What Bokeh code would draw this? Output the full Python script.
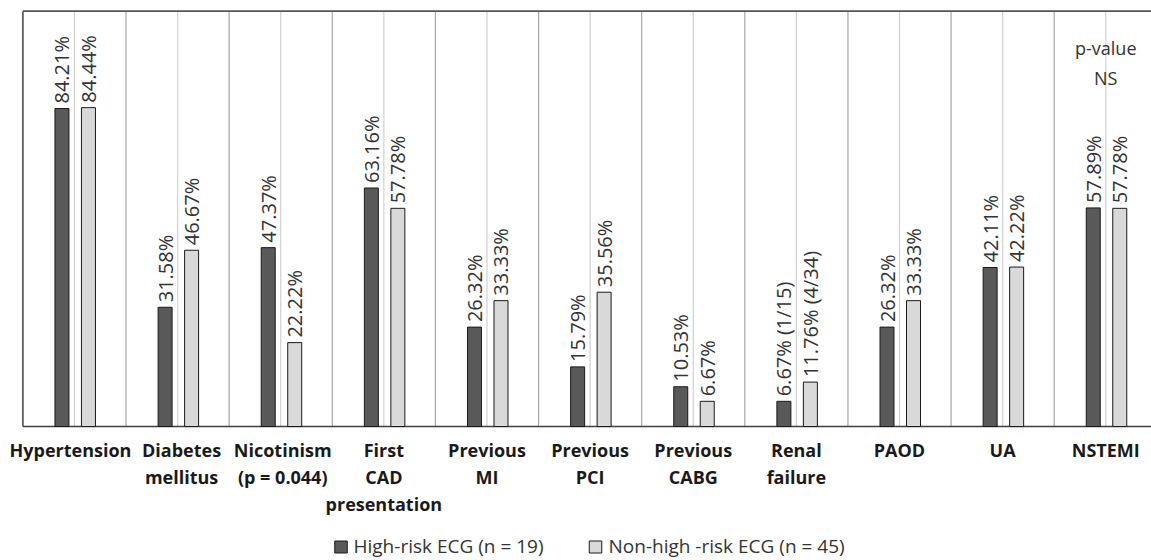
import numpy as np
from bokeh.plotting import figure
from bokeh.models import Range1d, ColumnDataSource
from bokeh.core.properties import value
from bokeh.embed import file_html
from bokeh.resources import INLINE

# ---------------- data ----------------
categories = ["Hypertension", "Diabetes\nmellitus", "Nicotinism\n(p = 0.044)",
              "First\nCAD\npresentation", "Previous\nMI", "Previous\nPCI",
              "Previous\nCABG", "Renal\nfailure", "PAOD", "UA", "NSTEMI"]
high_risk = [84.21, 31.58, 47.37, 63.16, 26.32, 15.79, 10.53, 6.67, 26.32, 42.11, 57.89]
non_high_risk = [84.44, 46.67, 22.22, 57.78, 33.33, 35.56, 6.67, 11.76, 33.33, 42.22, 57.78]
high_risk_notes = ["", "", "", "", "", "", "", " (1/15)", "", "", ""]
non_high_risk_notes = ["", "", "", "", "", "", "", " (4/34)", "", "", ""]
series_names = ["High-risk ECG (n = 19)", "Non-high -risk ECG (n = 45)"]
pvalue_note = ["p-value", "NS"]

# ---------------- layout / style ----------------
W, H = 1151, 560
X0_PX = 22.4        # left edge of first category (px)
CAT_W = 103.13      # category width (px)
Y0_PX = 426.0       # baseline (px)
PX_PER_PCT = 3.776  # px per percent
Y_TOP = 110.0
TXT_SHIFT = 7       # compensation for text baseline rendering

DARK = "#595959"
LIGHT = "#d9d9d9"
FONT = value("Open Sans")

def px2x(px):
    return -0.5 + (px - X0_PX) / CAT_W

def px2y(py):
    return (Y0_PX - py) / PX_PER_PCT

p = figure(width=W, height=H, output_backend="svg", toolbar_location=None,
           x_range=Range1d(px2x(0), px2x(W)), y_range=Range1d(px2y(H), px2y(0)),
           x_axis_location=None, y_axis_location=None, min_border=0,
           outline_line_color=None, background_fill_color="white",
           border_fill_color="white")
p.xgrid.visible = False
p.ygrid.visible = False

n = len(categories)
idx = np.arange(n)

# vertical grid lines: category separators (darker) and centers (lighter)
sep = idx[1:] - 0.5
p.segment(x0=sep, y0=np.zeros(len(sep)), x1=sep, y1=np.full(len(sep), Y_TOP),
          line_color="#a6a6a6", line_width=1.2)
p.segment(x0=idx, y0=np.zeros(n), x1=idx, y1=np.full(n, Y_TOP),
          line_color="#d0d0d0", line_width=1.2)

# frame: left border, top border, baseline
x_left = -0.5
x_right = px2x(W + 5)
p.segment(x0=[x_left], y0=[0], x1=[x_left], y1=[Y_TOP], line_color="#404040", line_width=1.5)
p.segment(x0=[x_left], y0=[Y_TOP], x1=[x_right], y1=[Y_TOP], line_color="#555555", line_width=1.6)
p.segment(x0=[x_left], y0=[0], x1=[x_right], y1=[0], line_color="#404040", line_width=1.6)

bar_w = 14 / CAT_W
off_dark = -12.5 / CAT_W
off_light = 14.0 / CAT_W

src_h = ColumnDataSource(dict(
    x=idx + off_dark, top=high_risk,
    label=[f"{v:.2f}%{nt}" for v, nt in zip(high_risk, high_risk_notes)]))
src_n = ColumnDataSource(dict(
    x=idx + off_light, top=non_high_risk,
    label=[f"{v:.2f}%{nt}" for v, nt in zip(non_high_risk, non_high_risk_notes)]))

for src, col in ((src_h, DARK), (src_n, LIGHT)):
    p.vbar(x="x", top="top", bottom=0, width=bar_w, source=src,
           fill_color=col, line_color="#1a1a1a", line_width=1)
    p.text(x="x", y="top", text="label", source=src, angle=np.pi / 2,
           text_align="left", text_baseline="middle", y_offset=-5,
           text_font=FONT, text_font_size="20px", text_color="#333333")

# category labels (multi-line, bold)
label_dx = [-4, 4, 2, 0, 0, 0, 0, 0, 0, 0, 0]
lx, ly, lt = [], [], []
for i, cat in enumerate(categories):
    for k, line in enumerate(cat.split("\n")):
        lx.append(i + label_dx[i] / CAT_W)
        ly.append(px2y(456.7 - TXT_SHIFT + 26.7 * k))
        lt.append(line)
p.text(x=lx, y=ly, text=lt, text_align="center", text_baseline="alphabetic",
       text_font=FONT, text_font_size="18px", text_font_style="bold",
       text_color="#1a1a1a")

# p-value note above NSTEMI
p.text(x=[n - 1, n - 1], y=[px2y(54 - TXT_SHIFT), px2y(84 - TXT_SHIFT)], text=pvalue_note,
       text_align="center", text_baseline="alphabetic",
       text_font=FONT, text_font_size="18px", text_color="#333333")

# legend (manual)
sq_x = [px2x(340.5), px2x(595)]
sq_y = [px2y(546.5), px2y(546.5)]
p.rect(x=sq_x, y=sq_y, width=12.5, height=12, width_units="screen",
       height_units="screen", fill_color=[DARK, LIGHT], line_color="#1a1a1a",
       line_width=1)
p.text(x=[px2x(353), px2x(608)], y=[px2y(552 - TXT_SHIFT), px2y(552 - TXT_SHIFT)],
       text=series_names, text_align="left", text_baseline="alphabetic",
       text_font=FONT, text_font_size="19px", text_color="#333333")

open("out.html", "w").write(file_html(p, INLINE))
